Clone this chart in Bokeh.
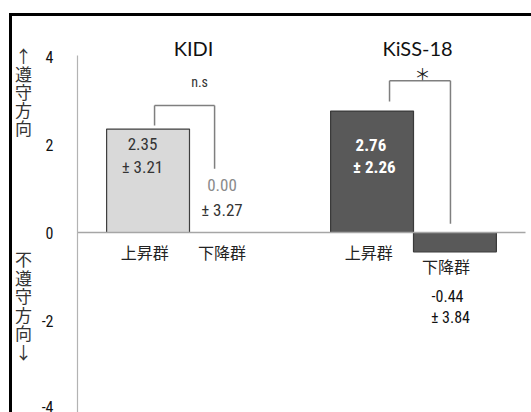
from bokeh.plotting import figure
from bokeh.models import LinearAxis, FixedTicker, Range1d
from bokeh.core.properties import value
from bokeh.embed import file_html
from bokeh.resources import INLINE

# ---- data ----
groups = ["KIDI", "KiSS-18"]
series = ["上昇群", "下降群"]
means_up = [2.35, 2.76]
means_down = [0.00, -0.44]
sd_up = [3.21, 2.26]
sd_down = [3.27, 3.84]
significance = ["n.s", "＊"]
y_ticks = [-4, -2, 0, 2, 4]
y_tick_labels = ["-4", "-2", "0", "2", "4"]
y_axis_top = ["↑", "遵", "守", "方", "向"]
y_axis_bottom = ["不", "遵", "守", "方", "向", "↓"]

W, H = 531, 412
# pixel layout of the plot area
X0PX, XUNIT = 77, 224      # category 0 starts at pixel 77, one category = 224 px
Y0PX, YUNIT = 232, 44      # y = 0 at pixel 232, 44 px per unit

def px2x(px):
    return (px - X0PX) / XUNIT

def px2y(py):
    return (Y0PX - py) / YUNIT

p = figure(width=W, height=H, output_backend="svg", toolbar_location=None,
           x_axis_type=None, y_axis_type=None, min_border=0,
           x_range=Range1d(px2x(0), px2x(W)), y_range=Range1d(px2y(H), px2y(0)))
p.outline_line_color = None
p.xgrid.visible = False
p.ygrid.visible = False
p.background_fill_color = "white"
p.border_fill_color = "white"

NARROW = "Liberation Sans Narrow, Roboto Condensed, Roboto, sans-serif"
CJK = "Noto Sans CJK JP"
TITLE = "Lato"

bw = 0.37
centers = [i + 0.5 for i in range(len(groups))]
x_up = [c - bw / 2 for c in centers]
x_down = [c + bw / 2 for c in centers]

# bars
up_colors = ["#d9d9d9", "#595959"]
down_colors = ["#d9d9d9", "#595959"]
line_colors = ["#3f3f3f", "#3a3a3a"]
p.vbar(x=x_up, top=means_up, bottom=0, width=bw, fill_color=up_colors,
       line_color=line_colors, line_width=1.2)
p.vbar(x=x_down, top=means_down, bottom=0, width=bw, fill_color=down_colors,
       line_color=line_colors, line_width=1.2)

# zero line
p.segment(x0=[0], y0=[0], x1=[len(groups)], y1=[0], line_color="#a6a6a6", line_width=1.5)

# y axis at x = 0
yaxis = LinearAxis(fixed_location=0, ticker=FixedTicker(ticks=y_ticks),
                   bounds=(-4.2, 4.03))
yaxis.major_label_overrides = {t: s for t, s in zip(y_ticks, y_tick_labels)}
yaxis.axis_line_color = "#b3b3b3"
yaxis.axis_line_width = 1.2
yaxis.major_tick_line_color = None
yaxis.minor_tick_line_color = None
yaxis.major_label_standoff = 18
yaxis.major_label_text_font = NARROW
yaxis.major_label_text_font_size = "16px"
yaxis.major_label_text_color = "#111111"
p.add_layout(yaxis, "left")

# group titles
p.text(x=[c + 0.018 for c in centers], y=[4.2, 4.2], text=groups,
       text_font=value(TITLE), text_font_size="20px", text_color="#111111",
       text_align="center", text_baseline="middle")

# category labels
cat_y_up = [-0.45, -0.45]
cat_y_down = [-0.45, -0.75]
p.text(x=[x - 0.015 for x in x_up], y=cat_y_up, text=[series[0]] * 2,
       text_font=value(CJK), text_font_size="16px", text_color="#222222",
       text_align="center", text_baseline="middle")
p.text(x=[x - 0.04 for x in x_down], y=cat_y_down, text=[series[1]] * 2,
       text_font=value(CJK), text_font_size="16px", text_color="#222222",
       text_align="center", text_baseline="middle")

# value labels
fmt_m = [f"{m:.2f}" for m in means_up]
fmt_s = [f"± {s:.2f}" for s in sd_up]
VSIZE = "17px"
# KIDI up (inside light bar)
p.text(x=[x_up[0] - 0.025] * 2, y=[means_up[0] - 0.33, means_up[0] - 0.85],
       text=[fmt_m[0], fmt_s[0]], text_font=value(NARROW), text_font_size=VSIZE,
       text_color="#333333", text_align="center", text_baseline="middle")
# KiSS up (inside dark bar, white bold)
p.text(x=[x_up[1] - 0.005, x_up[1] + 0.01], y=[means_up[1] - 0.76, means_up[1] - 1.26],
       text=[fmt_m[1], fmt_s[1]], text_font=value(NARROW), text_font_size=VSIZE,
       text_font_style="bold", text_color="white", text_align="center",
       text_baseline="middle")
# KIDI down
p.text(x=[x_down[0] - 0.04], y=[1.07], text=[f"{means_down[0]:.2f}"],
       text_font=value(NARROW), text_font_size=VSIZE, text_color="#8a8a8a",
       text_align="center", text_baseline="middle")
p.text(x=[x_down[0] - 0.04], y=[0.52], text=[f"± {sd_down[0]:.2f}"],
       text_font=value(NARROW), text_font_size=VSIZE, text_color="#333333",
       text_align="center", text_baseline="middle")
# KiSS down
p.text(x=[x_down[1] - 0.033, x_down[1] - 0.02], y=[means_down[1] - 1.01, means_down[1] - 1.49],
       text=[f"{means_down[1]:.2f}", f"± {sd_down[1]:.2f}"],
       text_font=value(NARROW), text_font_size="16px", text_color="#111111",
       text_align="center", text_baseline="middle")

# significance brackets
br_left = [0.344, 1.393]
br_right = [0.612, 1.665]
br_top = [2.886, 3.45]
br_left_bot = [2.43, 2.98]
br_right_bot = [1.45, 0.2]
p.segment(x0=br_left, y0=br_left_bot, x1=br_left, y1=br_top, line_color="#7f7f7f", line_width=1.5)
p.segment(x0=br_left, y0=br_top, x1=br_right, y1=br_top, line_color="#7f7f7f", line_width=1.5)
p.segment(x0=br_right, y0=br_top, x1=br_right, y1=br_right_bot, line_color="#7f7f7f", line_width=1.5)
p.text(x=[0.545], y=[3.43], text=[significance[0]],
       text_font=value(NARROW), text_font_size="14px",
       text_color="#333333", text_align="center", text_baseline="middle")
p.text(x=[1.54], y=[3.62], text=[significance[1]],
       text_font=value(CJK), text_font_size="16px",
       text_color="#222222", text_align="center", text_baseline="middle")

# vertical axis captions (stacked characters)
yt = [px2y(55 + 18 * i) for i in range(len(y_axis_top))]
yb = [px2y(258 + 18.5 * i) for i in range(len(y_axis_bottom))]
p.text(x=[px2x(23)] * len(yt), y=yt, text=y_axis_top, text_font=value(CJK),
       text_font_size="17px", text_color="#333333", text_align="center",
       text_baseline="middle")
p.text(x=[px2x(23)] * len(yb), y=yb, text=y_axis_bottom, text_font=value(CJK),
       text_font_size="17px", text_color="#333333", text_align="center",
       text_baseline="middle")

# outer chart border (only top and left edges are visible)
p.segment(x0=[px2x(10), px2x(8.5)], y0=[px2y(H + 5), px2y(14)],
          x1=[px2x(10), px2x(W + 5)], y1=[px2y(13), px2y(14)],
          line_color="black", line_width=3)

open("out.html", "w").write(file_html(p, INLINE))
